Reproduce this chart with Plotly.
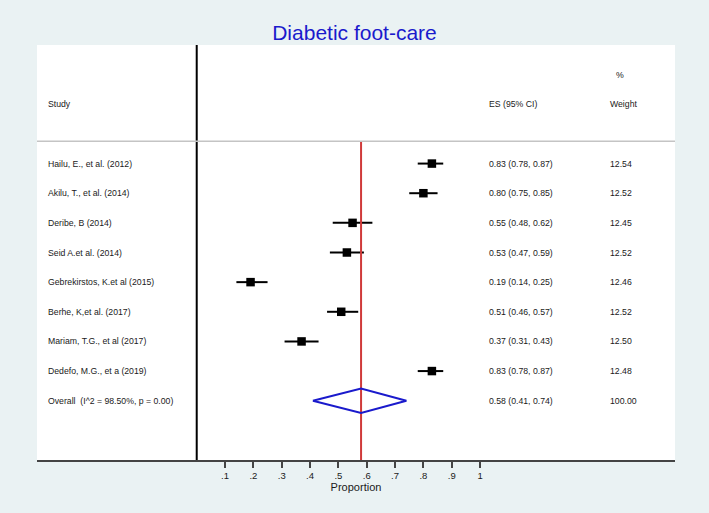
import plotly.graph_objects as go

# ---- data ----
studies = ["Hailu, E., et al. (2012)", "Akilu, T., et al. (2014)", "Deribe, B (2014)",
           "Seid A.et al. (2014)", "Gebrekirstos, K.et al (2015)", "Berhe, K,et al. (2017)",
           "Mariam, T.G., et al (2017)", "Dedefo, M.G., et a (2019)"]
es = [0.83, 0.80, 0.55, 0.53, 0.19, 0.51, 0.37, 0.83]
lo = [0.78, 0.75, 0.48, 0.47, 0.14, 0.46, 0.31, 0.78]
hi = [0.87, 0.85, 0.62, 0.59, 0.25, 0.57, 0.43, 0.87]
weights = [12.54, 12.52, 12.45, 12.52, 12.46, 12.52, 12.50, 12.48]
overall_label = "Overall  (I^2 = 98.50%, p = 0.00)"
overall_es, overall_lo, overall_hi, overall_w = 0.58, 0.41, 0.74, 100.00
tick_vals = [0.1, 0.2, 0.3, 0.4, 0.5, 0.6, 0.7, 0.8, 0.9, 1.0]
tick_labels = [".1", ".2", ".3", ".4", ".5", ".6", ".7", ".8", ".9", "1"]

# ---- layout constants ----
BG = "#eaf2f3"
FONT = "Liberation Sans, Arial, sans-serif"
TXT = "#1a1a1a"
X_STUDY, X_ES, X_W = -0.532, 1.025, 1.452
rows = list(range(1, len(studies) + 1))
overall_row = len(studies) + 1
DH = 0.41  # diamond half height (rows)

fig = go.Figure()

# CI lines
for r, l, h in zip(rows, lo, hi):
    fig.add_trace(go.Scatter(x=[l, h], y=[r, r], mode="lines",
                             line=dict(color="black", width=2), hoverinfo="skip"))
# squares
fig.add_trace(go.Scatter(x=es, y=rows, mode="markers",
                         marker=dict(symbol="square", size=8.5, color="black"), hoverinfo="skip"))

# reference line at overall estimate
fig.add_trace(go.Scatter(x=[overall_es, overall_es], y=[0.25, 11], mode="lines",
                         line=dict(color="#d03a3a", width=2), hoverinfo="skip"))

# diamond
fig.add_trace(go.Scatter(
    x=[overall_lo, overall_es, overall_hi, overall_es, overall_lo],
    y=[overall_row, overall_row - DH, overall_row, overall_row + DH, overall_row],
    mode="lines", line=dict(color="#1a1acc", width=2), hoverinfo="skip"))

# null line at 0 and header separator
fig.add_shape(type="line", x0=0, x1=0, y0=-3, y1=11, xref="x", yref="y",
              line=dict(color="black", width=2))
fig.add_shape(type="line", x0=0, x1=1, xref="paper", y0=0.25, y1=0.25, yref="y",
              line=dict(color="#c4c4c4", width=1.5))

ann = []
def txt(x, y, s, size=8.7):
    ann.append(dict(x=x, y=y, xref="x", yref="y", text=s, showarrow=False,
                    xanchor="left", yanchor="middle",
                    font=dict(family=FONT, size=size, color=TXT)))

txt(X_STUDY, -1, "Study")
txt(X_ES, -1, "ES (95% CI)")
txt(X_W + 0.02, -2, "%")
txt(X_W, -1, "Weight")
for r, s, e, l, h, w in zip(rows, studies, es, lo, hi, weights):
    txt(X_STUDY, r, s)
    txt(X_ES, r, f"{e:.2f} ({l:.2f}, {h:.2f})")
    txt(X_W, r, f"{w:.2f}")
txt(X_STUDY, overall_row, overall_label)
txt(X_ES, overall_row, f"{overall_es:.2f} ({overall_lo:.2f}, {overall_hi:.2f})")
txt(X_W, overall_row, f"{overall_w:.2f}")

fig.update_layout(
    width=709, height=513,
    margin=dict(l=37, r=34, t=45, b=53),
    paper_bgcolor=BG, plot_bgcolor="white",
    showlegend=False,
    title=dict(text="Diabetic foot-care", x=0.5, xanchor="center", y=1 - 33 / 513,
               yanchor="middle", font=dict(family=FONT, size=21, color="#1a1acc")),
    annotations=ann,
    xaxis=dict(range=[-0.5637, 1.688], showgrid=False, zeroline=False,
               showline=True, linecolor="#444444", linewidth=2,
               tickvals=tick_vals, ticktext=tick_labels, ticks="outside",
               ticklen=6, tickwidth=2, tickcolor="#444444",
               tickfont=dict(family=FONT, size=9.5, color=TXT),
               title=dict(text="Proportion", standoff=0,
                          font=dict(family=FONT, size=11, color=TXT))),
    yaxis=dict(range=[11, -3], showgrid=False, zeroline=False, showline=False,
               showticklabels=False, ticks=""),
)

fig.write_html("out.html", config={"displayModeBar": False},
               post_script="document.body.style.margin='0';document.body.style.padding='0';")
